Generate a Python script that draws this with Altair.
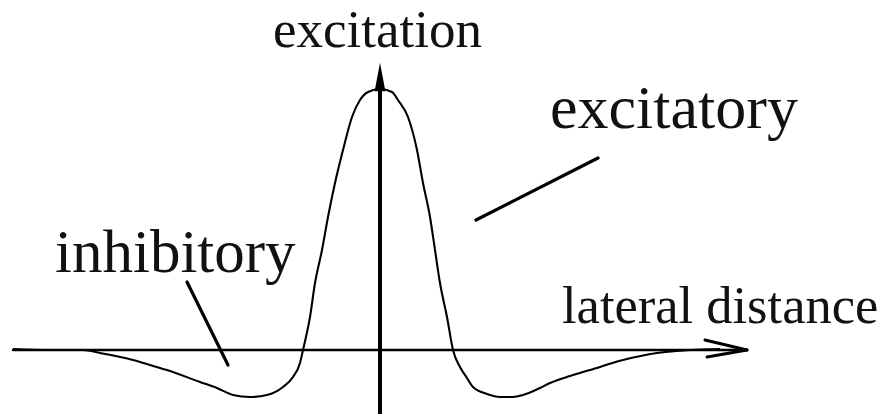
import altair as alt
import pandas as pd

# Lateral-inhibition profile ("Mexican hat"): lateral distance vs. excitation
dist = [-36.7, -33.0, -29.7, -28.0, -24.7, -23.0, -21.3, -18.0, -16.3, -14.7,
        -13.0, -11.3, -9.7, -8.7, -8.0, -7.7, -7.0, -6.5, -5.8, -5.2,
        -4.5, -3.7, -2.8, -2.0, -1.2, 0.0, 1.2, 1.8, 2.8, 3.7,
        4.3, 5.0, 5.5, 6.0, 6.7, 7.3, 8.0, 8.7, 9.3, 10.7,
        12.0, 13.3, 14.3, 16.0, 17.0, 19.0, 21.0, 24.3, 27.7, 31.0, 34.0]
excitation = [0.1, 0.0, 0.0, -0.3, -1.0, -1.5, -2.0, -3.2, -3.8, -4.5,
              -4.7, -4.5, -3.7, -2.7, -1.3, 0.0, 3.3, 6.7, 10.0, 13.3,
              16.7, 20.0, 23.3, 25.0, 25.8, 26.1, 25.8, 25.0, 23.3, 20.0,
              16.7, 13.3, 10.0, 6.7, 3.3, 0.0, -1.7, -2.8, -3.7, -4.4,
              -4.7, -4.7, -4.5, -3.8, -3.3, -2.6, -2.0, -1.0, -0.3, 0.0, 0.1]

# Axis extents and arrowheads
x_axis_start, x_axis_end = -36.7, 36.7
y_axis_start, y_axis_end = -6.4, 27.0
x_arrow_barbs = [(32.5, 1.0), (32.7, -0.7)]
y_arrow_center = 27.3  # middle of the filled arrowhead on the excitation axis

# Annotation labels and their pointer lines
labels = ["excitation", "excitatory", "inhibitory", "lateral distance"]
label_x = [-0.25, 17.0, -32.5, 18.2]
label_y = [30.3, 22.2, 7.8, 2.7]
label_align = ["center", "left", "left", "left"]
label_size = [53, 62, 61, 52.5]
pointer_from = [(9.6, 13.0), (-19.3, 6.8)]
pointer_to = [(21.8, 19.2), (-15.2, -1.5)]

X_DOMAIN = [-38.0, 50.6]
Y_DOMAIN = [-6.4, 35.0]
xs = alt.Scale(domain=X_DOMAIN, nice=False, zero=False)
ys = alt.Scale(domain=Y_DOMAIN, nice=False, zero=False)

curve_df = pd.DataFrame({"d": dist, "e": excitation})
curve = alt.Chart(curve_df).mark_line(
    color="black", strokeWidth=2.1, interpolate="monotone"
).encode(
    x=alt.X("d:Q", scale=xs, axis=None),
    y=alt.Y("e:Q", scale=ys, axis=None),
)


def segments(pairs):
    rows = []
    for i, (a, b) in enumerate(pairs):
        rows.append({"seg": i, "o": 0, "x": a[0], "y": a[1]})
        rows.append({"seg": i, "o": 1, "x": b[0], "y": b[1]})
    return pd.DataFrame(rows)


def seg_layer(df, width):
    return alt.Chart(df).mark_line(color="black", strokeWidth=width, strokeCap="round").encode(
        x=alt.X("x:Q", scale=xs, axis=None),
        y=alt.Y("y:Q", scale=ys, axis=None),
        detail="seg:N",
        order="o:Q",
    )


h_axis = seg_layer(segments([((x_axis_start, 0.0), (x_axis_end, 0.0))]), 2.5)
v_axis = seg_layer(segments([((0.0, y_axis_start), (0.0, y_axis_end))]), 4)
x_head = seg_layer(segments([((x_axis_end, 0.0), b) for b in x_arrow_barbs]), 3)
pointers = seg_layer(segments(list(zip(pointer_from, pointer_to))), 3.2)

# Narrow filled arrowhead at the top of the excitation axis
y_head = alt.Chart(pd.DataFrame({"x": [0.0], "y": [y_arrow_center]})).mark_point(
    shape="M0,-1L0.38,1L-0.38,1Z", filled=True, color="black", opacity=1, size=800,
).encode(
    x=alt.X("x:Q", scale=xs, axis=None),
    y=alt.Y("y:Q", scale=ys, axis=None),
)

text_layers = []
for t, tx, ty, al, sz in zip(labels, label_x, label_y, label_align, label_size):
    df = pd.DataFrame({"x": [tx], "y": [ty], "t": [t]})
    text_layers.append(
        alt.Chart(df).mark_text(
            font="Liberation Serif", fontSize=sz, align=al, baseline="alphabetic",
            color="#111111",
        ).encode(
            x=alt.X("x:Q", scale=xs, axis=None),
            y=alt.Y("y:Q", scale=ys, axis=None),
            text="t:N",
        )
    )

chart = alt.layer(h_axis, v_axis, x_head, y_head, curve, pointers, *text_layers).properties(
    width=886, height=414, padding=0, autosize=alt.AutoSizeParams(type="none"),
    background="white",
).configure_view(stroke=None)

chart.save("out.html", embed_options={"renderer": "svg", "actions": False})
